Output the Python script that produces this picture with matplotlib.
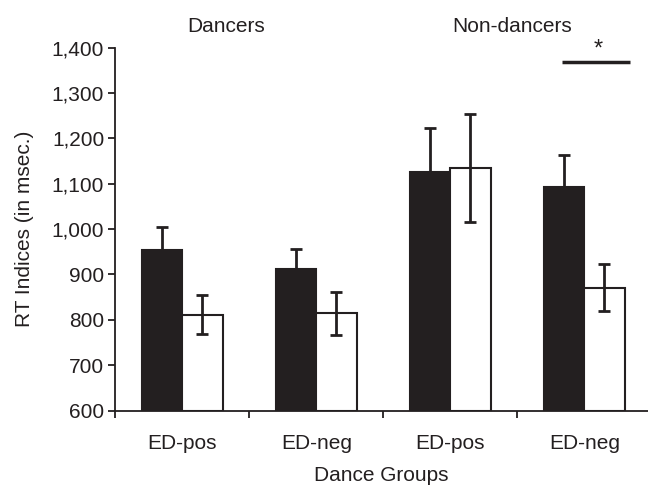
import matplotlib
matplotlib.use("Agg")
import matplotlib.pyplot as plt
import numpy as np

plt.rcParams['font.family'] = ['Liberation Sans', 'DejaVu Sans']

# data
groups = ["ED-pos", "ED-neg", "ED-pos", "ED-neg"]
black_means = [955, 912, 1125, 1092]
black_err = [49, 44, 97, 71]
white_means = [811, 814, 1134, 871]
white_err = [43, 47, 119, 52]
top_labels = ["Dancers", "Non-dancers"]
top_label_x = [0.33, 2.46]
sig_span = [2.83, 3.34]
sig_level = 1369

ink = '#231f20'
fs = 15
x = np.arange(len(groups))
w = 0.3

fig = plt.figure(figsize=(6.48, 4.87), dpi=100)
ax = fig.add_axes([0.178, 0.157, 0.822, 0.745])

ax.bar(x - w / 2, np.array(black_means) - 600, w, bottom=600, color=ink,
       edgecolor=ink, linewidth=1.5,
       yerr=[np.zeros(len(x)), black_err],
       error_kw=dict(ecolor=ink, elinewidth=2, capsize=4, capthick=2))
ax.bar(x + w / 2, np.array(white_means) - 600, w, bottom=600, color='white',
       edgecolor=ink, linewidth=1.5, yerr=white_err,
       error_kw=dict(ecolor=ink, elinewidth=2, capsize=4, capthick=2))

ax.set_ylim(600, 1400)
ax.set_xlim(-0.5, 3.475)
ax.set_yticks(np.arange(600, 1401, 100))
ax.set_yticklabels([f"{v:,}" for v in range(600, 1401, 100)])
ax.set_xticks(x)
ax.set_xticklabels(groups)
ax.set_xticks(np.arange(-0.5, 3.0, 1.0), minor=True)
ax.tick_params(axis='x', which='major', length=0, pad=17)
ax.tick_params(axis='x', which='minor', length=5, width=1.3, color=ink, direction='out')
ax.tick_params(axis='y', length=5, width=1.3, color=ink, direction='out', pad=3)
ax.tick_params(labelsize=fs, labelcolor=ink)

for side in ['top', 'right']:
    ax.spines[side].set_visible(False)
for side in ['left', 'bottom']:
    ax.spines[side].set_linewidth(1.3)
    ax.spines[side].set_color(ink)

ax.set_ylabel("RT Indices (in msec.)", fontsize=fs, color=ink, labelpad=13)
ax.set_xlabel("Dance Groups", fontsize=fs, color=ink, labelpad=9)

for lab, lx in zip(top_labels, top_label_x):
    ax.text(lx, 1446, lab, ha='center', va='center', fontsize=fs, color=ink,
            clip_on=False)

ax.plot(sig_span, [sig_level, sig_level], color=ink, lw=2.5, clip_on=False,
        solid_capstyle='butt')
ax.text(np.mean(sig_span) + 0.02, sig_level + 2, "*", ha='center', va='bottom',
        fontsize=17, color=ink, clip_on=False)

fig.savefig("out.png", dpi=100)
